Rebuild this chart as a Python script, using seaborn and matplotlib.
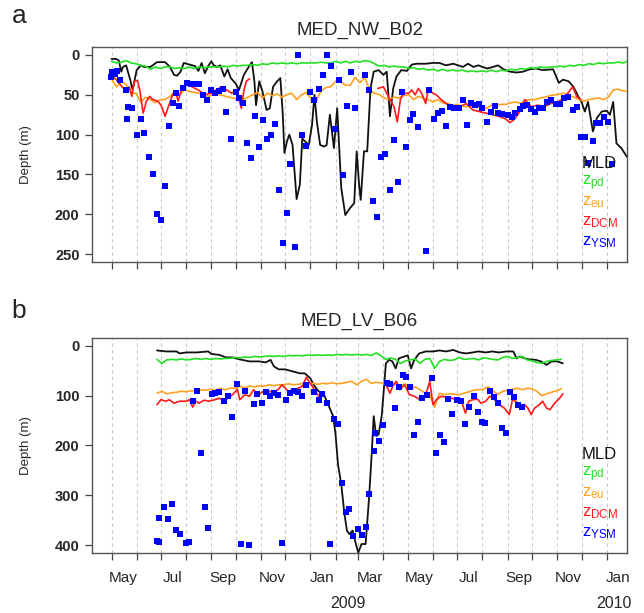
import numpy as np
import pandas as pd
import matplotlib
matplotlib.use("Agg")
import matplotlib.pyplot as plt
import matplotlib.dates as mdates
import matplotlib.transforms as mtransforms
from matplotlib.ticker import NullFormatter
import seaborn as sns

# ---------------- float MED_NW_B02 ----------------
mld_a_dates = ["2008-05-01", "2008-05-07", "2008-05-10", "2008-05-13", "2008-05-15", "2008-05-19",
               "2008-05-24", "2008-05-27", "2008-06-01", "2008-06-06", "2008-06-10", "2008-06-18",
               "2008-06-26", "2008-07-06", "2008-07-12", "2008-07-17", "2008-07-21", "2008-07-25",
               "2008-07-29", "2008-08-05", "2008-08-12", "2008-08-16", "2008-08-20", "2008-08-24",
               "2008-08-28", "2008-09-01", "2008-09-04", "2008-09-08", "2008-09-12", "2008-09-17",
               "2008-09-21", "2008-09-25", "2008-10-01", "2008-10-05", "2008-10-11", "2008-10-17",
               "2008-10-21", "2008-10-24", "2008-10-26", "2008-10-30", "2008-11-03", "2008-11-08",
               "2008-11-12", "2008-11-16", "2008-11-21", "2008-11-25", "2008-11-28", "2008-11-30",
               "2008-12-03", "2008-12-06", "2008-12-10", "2008-12-15", "2008-12-19", "2008-12-22",
               "2008-12-26", "2008-12-30", "2009-01-03", "2009-01-06", "2009-01-09", "2009-01-13",
               "2009-01-18", "2009-01-21", "2009-01-25", "2009-01-30", "2009-02-03", "2009-02-08",
               "2009-02-13", "2009-02-19", "2009-02-24", "2009-02-27", "2009-03-02", "2009-03-04",
               "2009-03-08", "2009-03-12", "2009-03-16", "2009-03-20", "2009-03-26", "2009-04-01",
               "2009-04-05", "2009-04-09", "2009-04-13", "2009-04-17", "2009-04-23", "2009-04-30",
               "2009-05-06", "2009-05-12", "2009-05-23", "2009-06-01", "2009-06-09", "2009-06-17",
               "2009-06-26", "2009-07-02", "2009-07-08", "2009-07-14", "2009-07-21", "2009-07-27",
               "2009-08-01", "2009-08-07", "2009-08-14", "2009-08-20", "2009-08-27", "2009-09-04",
               "2009-09-12", "2009-09-20", "2009-09-28", "2009-10-06", "2009-10-14", "2009-10-27",
               "2009-11-03", "2009-11-08", "2009-11-15", "2009-11-21", "2009-11-27", "2009-12-01",
               "2009-12-05", "2009-12-09", "2009-12-15", "2009-12-20", "2009-12-26", "2010-01-01",
               "2010-01-05", "2010-01-09", "2010-01-13", "2010-01-19", "2010-01-26"]
mld_a = [5, 5, 7, 21, 15, 13, 31, 44, 19, 13, 15, 15,
         9, 9, 15, 25, 26, 21, 10, 12, 14, 20, 10, 23,
         14, 8, 13, 15, 13, 27, 18, 29, 36, 44, 25, 15,
         9, 33, 63, 33, 46, 69, 67, 40, 33, 29, 75, 123,
         109, 100, 113, 181, 163, 105, 109, 113, 88, 50, 84, 113,
         115, 113, 75, 117, 67, 167, 201, 192, 186, 121, 163, 182,
         121, 121, 42, 21, 19, 25, 21, 77, 42, 27, 19, 20,
         12, 11, 11, 10, 10, 13, 11, 13, 15, 11, 15, 13,
         15, 17, 15, 13, 18, 21, 22, 21, 18, 17, 19, 18,
         35, 31, 33, 40, 52, 59, 71, 59, 96, 79, 71, 70,
         75, 59, 111, 117, 128]

# z_pd and z_eu are sampled every 6 days from this date
grid_a_start = "2008-05-01"
zpd_a = [8, 10, 9, 7, 10, 11, 13, 14, 18, 15, 17, 15, 15, 17, 16, 17, 15, 17, 15, 16, 15,
         15, 15, 14, 15, 13, 14, 13, 13, 12, 13, 11, 12, 10, 11, 10, 11, 10, 11, 10, 10,
         10, 10, 9, 10, 10, 8, 10, 8, 10, 8, 9, 7, 8, 11, 14, 13, 15, 14, 15, 15,
         17, 16, 18, 17, 19, 18, 20, 18, 20, 19, 20, 19, 21, 20, 21, 20, 21, 19, 21, 19, 20,
         18, 19, 17, 18, 16, 17, 15, 16, 15, 15, 14, 15, 13, 14, 12, 13, 11, 12, 10, 11,
         10, 10, 9, 10, 8]
zeu_a = [30, 40, 33, 37, 48, 48, 59, 53, 56, 60, 56, 56, 52, 48, 50, 43, 46, 47, 48, 50,
         52, 49, 50, 51, 53, 54, 56, 56, 53, 50, 47, 54, 48, 51, 49, 53, 50, 48,
         56, 50, 47, 55, 58, 45, 41, 40, 33, 33, 38, 38, 28, 35, 28, 44, 48,
         50, 54, 56, 53, 54, 51, 50, 56, 52, 54, 56, 59, 56, 60, 61, 63, 62, 64, 65, 64,
         66, 65, 67, 63, 63, 62, 62, 60, 59, 61, 57, 56, 56, 54, 53, 51, 50, 49, 48, 51,
         53, 56, 58, 56, 55, 54, 56, 53, 44, 43, 45, 46]

# DCM depth; NaN marks the winter period without a DCM
dcm_a_dates = ["2008-05-02", "2008-05-06", "2008-05-10", "2008-05-14", "2008-05-19", "2008-05-23",
               "2008-05-26", "2008-05-29", "2008-06-02", "2008-06-05", "2008-06-09", "2008-06-13",
               "2008-06-17", "2008-06-21", "2008-06-27", "2008-07-01", "2008-07-06", "2008-07-10",
               "2008-07-16", "2008-07-20", "2008-07-22", "2008-07-26", "2008-08-01", "2008-08-08",
               "2008-08-16", "2008-08-24", "2008-09-01", "2008-09-10", "2008-09-14", "2008-09-20",
               "2008-09-26", "2008-10-02", "2008-10-08", "2008-10-11", "2008-10-14", "2008-10-18",
               "2009-01-01",
               "2009-03-25", "2009-04-01", "2009-04-05", "2009-04-09", "2009-04-14", "2009-04-18",
               "2009-04-22", "2009-04-26", "2009-05-02", "2009-05-06", "2009-05-10", "2009-05-14",
               "2009-05-18", "2009-05-23", "2009-05-26", "2009-06-01", "2009-06-05", "2009-06-09",
               "2009-06-17", "2009-06-26", "2009-07-04", "2009-07-12", "2009-07-20", "2009-07-28",
               "2009-08-05", "2009-08-13", "2009-08-21", "2009-08-29", "2009-09-04", "2009-09-10",
               "2009-09-16", "2009-09-22", "2009-09-30", "2009-10-08", "2009-10-16", "2009-10-24",
               "2009-11-01", "2009-11-09", "2009-11-20", "2009-11-25", "2009-11-30"]
dcm_a = [27, 30, 35, 40, 45, 40, 52, 33, 32, 45, 73, 58,
         52, 56, 58, 63, 77, 65, 48, 50, 58, 44, 36, 40,
         44, 50, 48, 42, 40, 44, 48, 44, 67, 45, 33, 30,
         np.nan,
         42, 40, 48, 56, 65, 84, 55, 48, 48, 44, 50, 42,
         48, 61, 44, 48, 50, 54, 61, 65, 65, 61, 69, 71,
         73, 75, 77, 80, 85, 80, 71, 56, 65, 63, 65, 61,
         59, 55, 40, 52, 56]

ysm_a_dates = ["2008-04-30", "2008-05-02", "2008-05-05", "2008-05-08", "2008-05-11", "2008-05-19",
               "2008-05-20", "2008-05-21", "2008-05-26", "2008-06-01", "2008-06-06", "2008-06-10",
               "2008-06-16", "2008-06-21", "2008-06-26", "2008-07-01", "2008-07-06", "2008-07-11",
               "2008-07-16", "2008-07-19", "2008-07-23", "2008-07-28", "2008-08-02", "2008-08-07",
               "2008-08-12", "2008-08-17", "2008-08-22", "2008-08-27", "2008-09-01", "2008-09-05",
               "2008-09-10", "2008-09-15", "2008-09-19", "2008-09-25", "2008-10-01", "2008-10-05",
               "2008-10-10", "2008-10-15", "2008-10-20", "2008-10-25", "2008-10-30", "2008-11-03",
               "2008-11-08", "2008-11-13", "2008-11-18", "2008-11-23", "2008-11-28", "2008-12-03",
               "2008-12-07", "2008-12-13", "2008-12-17", "2008-12-22", "2008-12-27", "2009-01-01",
               "2009-01-06", "2009-01-11", "2009-01-16", "2009-01-21", "2009-01-26", "2009-01-31",
               "2009-02-05", "2009-02-10", "2009-02-15", "2009-02-20", "2009-02-25", "2009-03-09",
               "2009-03-14", "2009-03-19", "2009-03-24", "2009-03-29", "2009-04-03", "2009-04-09",
               "2009-04-14", "2009-04-19", "2009-04-24", "2009-04-29", "2009-05-04", "2009-05-08",
               "2009-05-14", "2009-05-23", "2009-05-27", "2009-06-02", "2009-06-07", "2009-06-12",
               "2009-06-17", "2009-06-22", "2009-06-27", "2009-07-03", "2009-07-08", "2009-07-13",
               "2009-07-18", "2009-07-23", "2009-07-28", "2009-08-01", "2009-08-06", "2009-08-11",
               "2009-08-16", "2009-08-20", "2009-08-25", "2009-09-01", "2009-09-06", "2009-09-10",
               "2009-09-16", "2009-09-20", "2009-09-25", "2009-09-30", "2009-10-05", "2009-10-10",
               "2009-10-15", "2009-10-19", "2009-10-24", "2009-10-31", "2009-11-04", "2009-11-09",
               "2009-11-14", "2009-11-20", "2009-11-25", "2009-11-30", "2009-12-05", "2009-12-09",
               "2009-12-15", "2009-12-19", "2009-12-24", "2009-12-29", "2010-01-03", "2010-01-08"]
ysm_a = [28, 21, 24, 20, 32, 44, 80, 65, 66, 101, 80, 98,
         128, 150, 200, 207, 164, 89, 60, 48, 64, 42, 35, 36,
         36, 37, 50, 56, 44, 48, 45, 43, 72, 106, 47, 54,
         60, 111, 130, 77, 116, 82, 105, 100, 87, 170, 236, 199,
         137, 241, 0, 100, 114, 47, 56, 43, 25, 0, 14, 93,
         32, 151, 64, 22, 67, 25, 44, 184, 204, 128, 124, 170,
         107, 160, 47, 115, 82, 74, 91, 246, 44, 81, 73, 70,
         89, 65, 66, 67, 57, 88, 60, 63, 61, 67, 84, 71,
         64, 73, 74, 75, 78, 73, 68, 64, 63, 68, 72, 67,
         67, 59, 56, 62, 61, 54, 53, 69, 65, 103, 103, 136,
         108, 85, 85, 78, 84, 137]

# ---------------- float MED_LV_B06 ----------------
mld_b_dates = ["2008-06-26", "2008-07-07", "2008-07-20", "2008-07-24", "2008-08-01", "2008-08-14",
               "2008-08-28", "2008-09-01", "2008-09-11", "2008-09-19", "2008-09-27", "2008-10-06",
               "2008-10-18", "2008-10-30", "2008-11-07", "2008-11-13", "2008-11-17", "2008-11-23",
               "2008-12-01", "2008-12-10", "2008-12-19", "2008-12-25", "2009-01-01", "2009-01-05",
               "2009-01-11", "2009-01-17", "2009-01-23", "2009-01-29", "2009-02-01", "2009-02-04",
               "2009-02-08", "2009-02-12", "2009-02-15", "2009-02-18", "2009-02-22", "2009-02-26",
               "2009-03-01", "2009-03-05", "2009-03-10", "2009-03-14", "2009-03-17", "2009-03-20",
               "2009-03-23", "2009-03-26", "2009-03-30", "2009-04-04", "2009-04-08", "2009-04-12",
               "2009-04-16", "2009-04-20", "2009-04-27", "2009-05-01", "2009-05-05", "2009-05-09",
               "2009-05-15", "2009-05-23", "2009-06-01", "2009-06-09", "2009-06-17", "2009-06-26",
               "2009-07-04", "2009-07-12", "2009-07-20", "2009-07-27", "2009-08-05", "2009-08-13",
               "2009-08-21", "2009-08-31", "2009-09-08", "2009-09-12", "2009-09-16", "2009-09-22",
               "2009-09-28", "2009-10-06", "2009-10-12", "2009-10-19", "2009-10-25", "2009-11-01",
               "2009-11-08"]
mld_b = [9, 11, 11, 15, 13, 13, 11, 16, 18, 23, 23, 27,
         31, 31, 33, 28, 41, 47, 47, 51, 55, 55, 65, 78,
         91, 95, 118, 141, 178, 238, 278, 338, 371, 378, 371, 398,
         415, 398, 398, 311, 231, 141, 181, 178, 138, 35, 28, 31,
         45, 25, 21, 19, 45, 28, 15, 11, 11, 9, 11, 8,
         13, 15, 13, 11, 13, 11, 13, 11, 11, 25, 21, 25,
         27, 28, 31, 38, 31, 31, 35]

grid_b_start = "2008-06-26"
zpd_b = [27, 35, 28, 27, 28, 26, 28, 27, 25, 27, 25, 27, 25, 26, 25, 25, 23,
         24, 22, 23, 21, 22, 21, 20, 21, 20, 21, 19, 20, 19, 20, 18, 19, 18, 19, 18, 19,
         17, 18, 17, 18, 17, 18, 17, 19, 14, 20, 27, 24, 27, 35, 30, 28, 26, 35, 27, 25,
         45, 31, 27, 29, 28, 23, 27, 26, 25, 28, 24, 25, 27, 28, 23, 21, 25, 23, 21, 28,
         30, 33, 35, 31, 29, 28, 27]
zeu_b = [95, 91, 96, 94, 93, 91, 92, 90, 91, 88, 89, 87, 89, 85, 88, 85, 85,
         81, 84, 81, 82, 80, 81, 78, 80, 78, 78, 76, 78, 77, 75, 77, 75, 77, 75, 76, 74,
         76, 75, 73, 71, 78, 71, 67, 75, 73, 74, 78, 80, 77, 80, 76, 85, 82, 88, 94, 98,
         123, 95, 98, 96, 97, 98, 95, 92, 89, 88, 87, 82, 91, 97, 91, 89, 87, 85, 88, 85,
         86, 91, 100, 96, 93, 90, 86]

dcm_b_dates = ["2008-06-26", "2008-07-01", "2008-07-07", "2008-07-11", "2008-07-17", "2008-07-24",
               "2008-08-01", "2008-08-05", "2008-08-09", "2008-08-13", "2008-08-17", "2008-08-23",
               "2008-08-29", "2008-09-05", "2008-09-11", "2008-09-17", "2008-09-21", "2008-09-27",
               "2008-10-03", "2008-10-06", "2008-10-12", "2008-10-18", "2008-10-23", "2008-10-29",
               "2008-11-04", "2008-11-10", "2008-11-16", "2008-11-22", "2008-11-27", "2008-12-01",
               "2008-12-05", "2008-12-11", "2008-12-17", "2008-12-22", "2008-12-27", "2009-01-01",
               "2009-01-05", "2009-01-11",
               "2009-02-15",
               "2009-04-05", "2009-04-09", "2009-04-13", "2009-04-17", "2009-04-21", "2009-04-27",
               "2009-05-03", "2009-05-09", "2009-05-15", "2009-05-21", "2009-05-25", "2009-05-28",
               "2009-06-01", "2009-06-05", "2009-06-11", "2009-06-17", "2009-06-24", "2009-06-30",
               "2009-07-06", "2009-07-11", "2009-07-15", "2009-07-20", "2009-07-26", "2009-07-30",
               "2009-08-05", "2009-08-10", "2009-08-16", "2009-08-22", "2009-08-28", "2009-09-03",
               "2009-09-07", "2009-09-14", "2009-09-18", "2009-09-22", "2009-09-26", "2009-09-30",
               "2009-10-04", "2009-10-10", "2009-10-14", "2009-10-19", "2009-10-23", "2009-10-29",
               "2009-11-04", "2009-11-08"]
dcm_b = [118, 108, 111, 108, 115, 111, 111, 108, 123, 111, 115, 109,
         111, 108, 105, 111, 105, 98, 87, 108, 98, 101, 88, 98,
         91, 91, 93, 88, 78, 85, 91, 88, 85, 81, 63, 75,
         85, 101,
         np.nan,
         81, 95, 78, 71, 88, 78, 98, 101, 107, 105, 88, 71,
         118, 108, 101, 103, 105, 108, 111, 135, 111, 108, 107, 115,
         111, 101, 108, 118, 125, 138, 107, 115, 121, 118, 125, 138,
         125, 118, 111, 125, 128, 115, 105, 96]

ysm_b_dates = ["2008-06-26", "2008-06-28", "2008-06-29", "2008-07-05", "2008-07-10", "2008-07-15",
               "2008-07-20", "2008-07-24", "2008-08-01", "2008-08-04", "2008-08-09", "2008-08-14",
               "2008-08-19", "2008-08-24", "2008-08-28", "2008-09-02", "2008-09-06", "2008-09-11",
               "2008-09-17", "2008-09-22", "2008-09-26", "2008-10-03", "2008-10-08", "2008-10-13",
               "2008-10-17", "2008-10-23", "2008-10-27", "2008-11-02", "2008-11-07", "2008-11-12",
               "2008-11-17", "2008-11-22", "2008-11-27", "2008-12-02", "2008-12-07", "2008-12-12",
               "2008-12-17", "2008-12-22", "2008-12-26", "2009-01-06", "2009-01-11", "2009-01-15",
               "2009-01-21", "2009-01-25", "2009-01-30", "2009-02-04", "2009-02-09", "2009-02-14",
               "2009-02-18", "2009-02-23", "2009-03-01", "2009-03-05", "2009-03-10", "2009-03-14",
               "2009-03-20", "2009-03-22", "2009-03-26", "2009-04-01", "2009-04-05", "2009-04-09",
               "2009-04-15", "2009-04-20", "2009-04-25", "2009-04-29", "2009-05-04", "2009-05-09",
               "2009-05-14", "2009-05-19", "2009-05-25", "2009-05-31", "2009-06-05", "2009-06-10",
               "2009-06-15", "2009-06-20", "2009-06-25", "2009-07-01", "2009-07-06", "2009-07-10",
               "2009-07-15", "2009-07-21", "2009-07-26", "2009-07-31", "2009-08-04", "2009-08-10",
               "2009-08-15", "2009-08-20", "2009-08-25", "2009-08-30", "2009-09-04", "2009-09-09",
               "2009-09-14", "2009-09-19"]
ysm_b = [392, 345, 393, 323, 347, 317, 369, 378, 395, 393, 110, 90,
         216, 323, 365, 96, 95, 93, 110, 101, 143, 77, 397, 91,
         400, 117, 97, 115, 93, 100, 95, 98, 395, 109, 95, 91,
         93, 100, 78, 93, 108, 96, 115, 398, 147, 157, 276, 333,
         328, 381, 367, 380, 363, 298, 211, 175, 191, 158, 75, 77,
         125, 83, 58, 63, 83, 178, 153, 105, 98, 65, 215, 178,
         193, 106, 136, 109, 111, 157, 123, 100, 133, 153, 155, 91,
         103, 115, 165, 175, 93, 103, 118, 123]

# ---------------- appearance ----------------
C_MLD = "#111111"
C_PD = "#22e022"
C_EU = "#ffa020"
C_DCM = "#ff1a1a"
C_YSM = "#0000ff"

sns.set_style("ticks")
plt.rcParams["font.family"] = ["Liberation Sans", "DejaVu Sans"]
plt.rcParams["mathtext.default"] = "regular"

X_LEFT = pd.Timestamp("2008-04-07")
X_RIGHT = pd.Timestamp("2010-01-26")


def series_frame(dates, values):
    df = pd.DataFrame({"date": pd.to_datetime(dates), "depth": values})
    df["seg"] = df["depth"].isna().cumsum()
    return df.dropna()


def grid_frame(start, values):
    return pd.DataFrame({"date": pd.date_range(start, periods=len(values), freq="6D"),
                         "depth": values})


def draw_panel(ax, title, mld_d, mld_v, gstart, zpd, zeu, dcm_d, dcm_v, ysm_d, ysm_v,
               yticks, ylim, show_labels):
    sns.lineplot(data=series_frame(mld_d, mld_v), x="date", y="depth", ax=ax,
                 color=C_MLD, lw=1.3, zorder=3)
    sns.lineplot(data=grid_frame(gstart, zpd), x="date", y="depth", ax=ax,
                 color=C_PD, lw=1.2, zorder=3)
    sns.lineplot(data=grid_frame(gstart, zeu), x="date", y="depth", ax=ax,
                 color=C_EU, lw=1.2, zorder=3)
    sns.lineplot(data=series_frame(dcm_d, dcm_v), x="date", y="depth", units="seg",
                 estimator=None, ax=ax, color=C_DCM, lw=1.2, zorder=3)
    sns.scatterplot(x=pd.to_datetime(ysm_d), y=ysm_v, ax=ax, marker="s", s=24,
                    color=C_YSM, linewidth=0, zorder=4)

    ax.set_xlim(X_LEFT, X_RIGHT)
    ax.set_ylim(*ylim)
    ax.set_xlabel("")
    ax.set_ylabel("Depth (m)", fontsize=9.5)
    ax.yaxis.set_label_coords(-0.112, 0.5)
    ax.set_title(title, fontsize=13.5, pad=9)

    ax.set_yticks(yticks, labels=[str(t) for t in yticks], fontsize=10.5, fontweight="bold")
    ax.xaxis.set_major_locator(mdates.MonthLocator())
    ax.xaxis.set_major_formatter(NullFormatter())
    ax.tick_params(axis="both", which="major", direction="out", length=5, width=0.9,
                   color="#444444", pad=4)
    if show_labels:
        ax.xaxis.set_minor_locator(mdates.MonthLocator(bymonth=(1, 3, 5, 7, 9, 11), bymonthday=15))
        ax.xaxis.set_minor_formatter(mdates.DateFormatter("%b"))
        ax.tick_params(axis="x", which="minor", length=0, pad=13, labelsize=11)
    ax.grid(axis="x", which="major", color="#c8c8c8", lw=0.8, ls=(0, (3, 3)))
    ax.set_axisbelow(True)
    for sp in ax.spines.values():
        sp.set_color("#555555")
        sp.set_linewidth(1.0)

    legend_items = [("MLD", C_MLD), ("z$_{pd}$", C_PD), ("z$_{eu}$", C_EU),
                    ("z$_{DCM}$", C_DCM), ("z$_{YSM}$", C_YSM)]
    ys = [0.437, 0.357, 0.263, 0.170, 0.077]
    for (txt, col), yy in zip(legend_items, ys):
        ax.text(0.916, yy, txt, color=col, fontsize=12, ha="left", va="baseline",
                transform=ax.transAxes, zorder=6)


fig = plt.figure(figsize=(6.44, 6.13), dpi=100)
ax_a = fig.add_axes([0.1429, 0.5726, 0.8307, 0.3507])
ax_b = fig.add_axes([0.1429, 0.0979, 0.8307, 0.3507])

draw_panel(ax_a, "MED_NW_B02", mld_a_dates, mld_a, grid_a_start, zpd_a, zeu_a,
           dcm_a_dates, dcm_a, ysm_a_dates, ysm_a, [0, 50, 100, 150, 200, 250], (260, -10), False)
draw_panel(ax_b, "MED_LV_B06", mld_b_dates, mld_b, grid_b_start, zpd_b, zeu_b,
           dcm_b_dates, dcm_b, ysm_b_dates, ysm_b, [0, 100, 200, 300, 400], (416, -16), True)

# year labels under the month axis
year_tr = mtransforms.blended_transform_factory(ax_b.transData, ax_b.transAxes)
for yr_date, yr in [("2009-02-16", "2009"), ("2010-01-10", "2010")]:
    ax_b.text(mdates.date2num(pd.Timestamp(yr_date)), -0.235, yr, transform=year_tr,
              ha="center", va="center", fontsize=11.5)

# panel letters
fig.text(0.018, 0.962, "a", fontsize=19, ha="left", va="baseline")
fig.text(0.018, 0.481, "b", fontsize=19, ha="left", va="baseline")

fig.savefig("out.png", dpi=100)
